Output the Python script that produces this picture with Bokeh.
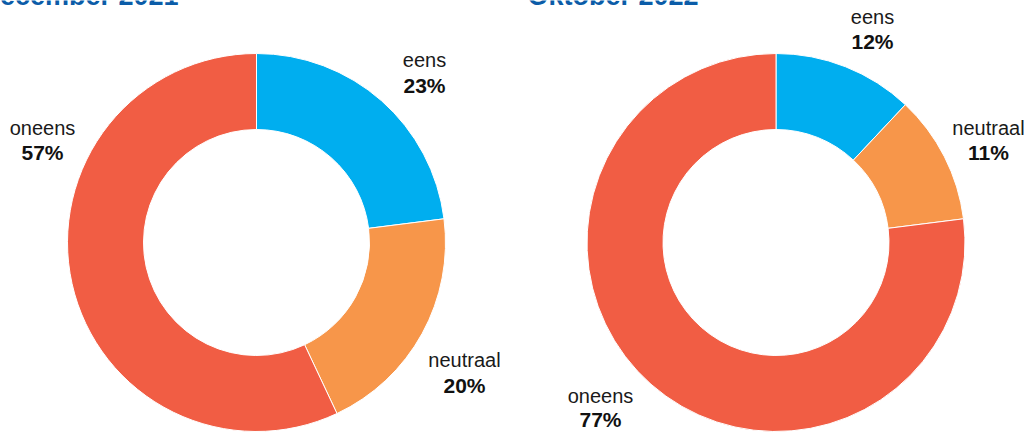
import numpy as np
from bokeh.plotting import figure
from bokeh.models import Range1d
from bokeh.core.properties import value
from bokeh.embed import file_html
from bokeh.resources import INLINE

# ---- data ----
periods = ["December 2021", "Oktober 2022"]
categories = ["eens", "neutraal", "oneens"]
dec_2021 = [23, 20, 57]
okt_2022 = [12, 11, 77]
series = [dec_2021, okt_2022]
colors = ["#00AEEF", "#F7964A", "#F15D44"]

# ---- layout (picture pixel coordinates) ----
W, H = 1030, 432
def dx(px):
    return px
def dy(py):
    return H - py

centers = [(256, 242), (775.5, 242)]
outer_r, inner_r = 189, 113
# title anchor (left x, baseline y)
title_pos = [(-20, -5), (527, -5)]
# label anchors: (center x, baseline line1, baseline line2) per category
label_pos = [
    [(424, 59, 85), (464, 359, 385), (42, 127, 152)],
    [(872, 16, 41), (988, 127, 152), (600, 395, 419)],
]

p = figure(width=W, height=H, x_range=Range1d(0, W), y_range=Range1d(0, H),
           output_backend="svg", toolbar_location=None, min_border=0,
           x_axis_type=None, y_axis_type=None)
p.grid.visible = False
p.outline_line_color = None
p.background_fill_color = "white"
p.border_fill_color = "white"

for k, vals in enumerate(series):
    cx, cy = centers[k]
    tot = float(sum(vals))
    cum = np.concatenate([[0], np.cumsum(vals)]) / tot
    starts = np.pi / 2 - cum[1:] * 2 * np.pi
    ends = np.pi / 2 - cum[:-1] * 2 * np.pi
    p.annular_wedge(x=[dx(cx)] * len(vals), y=[dy(cy)] * len(vals),
                    inner_radius=inner_r, outer_radius=outer_r,
                    inner_radius_units="screen", outer_radius_units="screen",
                    start_angle=list(starts), end_angle=list(ends),
                    fill_color=colors, line_color="white", line_width=1)
    tx, ty = title_pos[k]
    p.text(x=[dx(tx)], y=[dy(ty)], text=[periods[k]],
           text_font=value("Liberation Sans"), text_font_style="bold",
           text_font_size="27px", text_color="#0B5CA8",
           text_align="left", text_baseline="alphabetic")
    for j, cat in enumerate(categories):
        lx, b1, b2 = label_pos[k][j]
        p.text(x=[dx(lx)], y=[dy(b1)], text=[cat],
               text_font=value("Liberation Sans"), text_font_size="20px",
               text_color="#1a1a1a", text_align="center", text_baseline="alphabetic")
        p.text(x=[dx(lx)], y=[dy(b2)], text=[f"{vals[j]}%"],
               text_font=value("Liberation Sans"), text_font_style="bold",
               text_font_size="21px", text_color="#111111",
               text_align="center", text_baseline="alphabetic")

open("out.html", "w").write(file_html(p, INLINE))
